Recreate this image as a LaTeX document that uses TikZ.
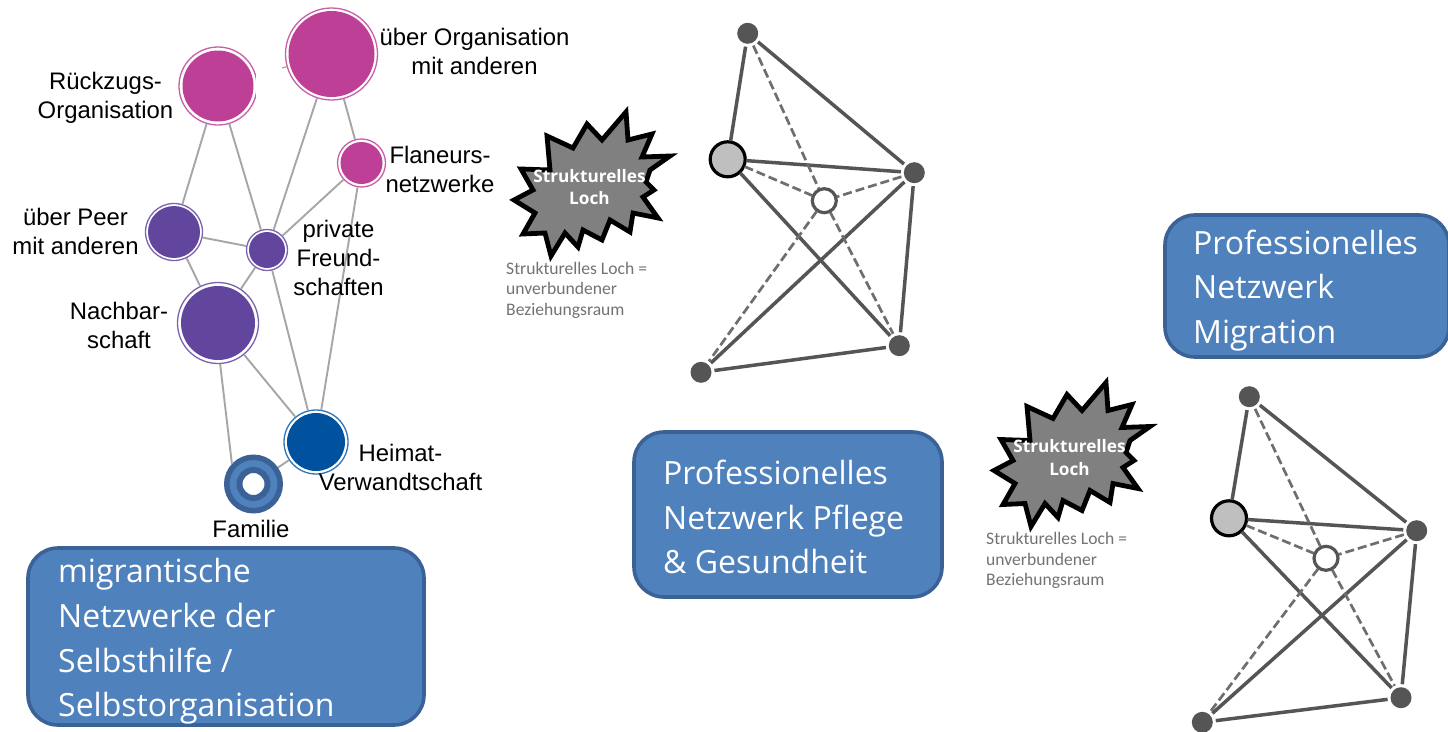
\documentclass[tikz,border=0pt]{standalone}
\usepackage{fontspec}
\setmainfont{Liberation Sans}
\newfontfamily\boxfont{Open Sans}
\newfontfamily\starfont{Open Sans}
\newfontfamily\capfont{Carlito}
\usetikzlibrary{calc}
\definecolor{mag}{HTML}{BE3F96}
\definecolor{magring}{HTML}{C85FA8}
\definecolor{pur}{HTML}{62469E}
\definecolor{purring}{HTML}{7A62B0}
\definecolor{hblue}{HTML}{00519E}
\definecolor{hring}{HTML}{2E75B6}
\definecolor{boxfill}{HTML}{4F81BD}
\definecolor{boxedge}{HTML}{3A6296}
\definecolor{edgegray}{HTML}{A6A6A6}
\definecolor{netdark}{HTML}{555555}
\tikzset{
  x=1pt,y=-1pt,
  link/.style={draw=edgegray,line width=1.9pt},
  ringnode/.style={circle,fill=white,line width=1.3pt,inner sep=0pt,minimum size=#1},
  lab/.style={align=center,inner sep=0pt,font=\fontsize{23.9}{29}\selectfont},
  bluebox/.style={draw=boxedge,fill=boxfill,line width=3.6pt,rounded corners=30pt,inner sep=0pt},
  boxtext/.style={align=left,anchor=west,inner sep=0pt,text=white,font=\boxfont\fontsize{32}{44.7}\selectfont},
  solidedge/.style={draw=netdark,line width=3.5pt},
  dashedge/.style={draw=netdark!85,line width=2.7pt,dash pattern=on 9pt off 4pt},
  smallnet/.style={circle,fill=netdark,inner sep=0pt,minimum size=21pt,outer sep=3pt},
  bignet/.style={circle,fill=black!25,draw=black,line width=3.2pt,inner sep=0pt,minimum size=35pt,outer sep=1pt},
  ctrnet/.style={circle,fill=white,draw=netdark,line width=3.2pt,inner sep=0pt,minimum size=24pt,outer sep=1pt},
  startext/.style={align=center,inner sep=0pt,text=white,font=\starfont\bfseries\fontsize{17.2}{22.5}\selectfont},
  captext/.style={align=left,inner sep=0pt,anchor=north west,text=black!55,font=\capfont\fontsize{17.6}{20.5}\selectfont},
}
% network: name, then coordinates top, left, right, centre, bottom right, bottom left
\newcommand{\netdraw}[7]{%
  \node[smallnet] (#1t) at #2 {};
  \node[bignet] (#1l) at #3 {};
  \node[smallnet] (#1r) at #4 {};
  \node[ctrnet] (#1c) at #5 {};
  \node[smallnet] (#1br) at #6 {};
  \node[smallnet] (#1bl) at #7 {};
  \draw[solidedge] (#1t) -- (#1l);
  \draw[solidedge] (#1t) -- (#1r);
  \draw[solidedge] (#1l) -- (#1r);
  \draw[solidedge] (#1l) -- (#1br);
  \draw[solidedge] (#1r) -- (#1bl);
  \draw[solidedge] (#1r) -- (#1br);
  \draw[solidedge] (#1br) -- (#1bl);
  \draw[dashedge] (#1t) -- (#1c);
  \draw[dashedge] (#1l) -- (#1c);
  \draw[dashedge] (#1r) -- (#1c);
  \draw[dashedge] (#1c) -- (#1bl);
  \draw[dashedge] (#1c) -- (#1br);
}
% star with its caption; #1 name, #2 shift
\newcommand{\stardraw}[2]{%
  \begin{scope}[shift={#2}]
    \draw[draw=black,fill=black!50,line width=4.8pt,miter limit=10,line join=miter]
      (547,136) -- (573,148) -- (587,124) -- (602,140) -- (626,112) -- (628,140) -- (652,134) -- (642,157)
      -- (670,156) -- (650,170) -- (646,182) -- (654,190) -- (643,197) -- (658,218) -- (633,213) -- (630,232)
      -- (610,220) -- (602,240) -- (583,230) -- (578,247) -- (565,233) -- (551,256) -- (545,233) -- (523,234)
      -- (535,213) -- (514,200) -- (533,190) -- (521,169) -- (550,170) -- cycle;
    \node[startext] (#1s) at (589.5,187) {Strukturelles\\Loch};
    \node[captext] (#1k) at (506,262) {Strukturelles Loch =\\unverbundener\\Beziehungsraum};
  \end{scope}
}
\begin{document}
\begin{tikzpicture}
\useasboundingbox (0,0) rectangle (1448,731);
\fill[white] (0,0) rectangle (1448,731);

% left network nodes
\node[ringnode=92pt,draw=magring] (org) at (331.5,54) {};
\node[ringnode=78pt,draw=magring] (rueck) at (218,86) {};
\node[ringnode=48pt,draw=magring] (flan) at (361.5,163) {};
\node[ringnode=57pt,draw=purring] (peer) at (174,232) {};
\node[ringnode=41pt,draw=purring] (priv) at (267,250) {};
\node[ringnode=81pt,draw=purring] (nach) at (218,323) {};
\node[ringnode=64pt,draw=hring] (heim) at (316,442) {};
\node[circle,fill=boxfill,draw=boxedge,line width=5.5pt,inner sep=0pt,minimum size=53.5pt] (fam) at (253.5,484) {};
\coordinate (stub) at (282,68);

\draw[link] (rueck) -- (peer);
\draw[link] (rueck) -- (priv);
\draw[link] (org) -- (priv);
\draw[link] (org) -- (flan);
\draw[link] (flan) -- (priv);
\draw[link] (flan) -- (heim);
\draw[link] (peer) -- (priv);
\draw[link] (peer) -- (nach);
\draw[link] (priv) -- (nach);
\draw[link] (priv) -- (heim);
\draw[link] (nach) -- (heim);
\draw[link] (nach.273) -- (fam.137);
\draw[link] (heim) -- (fam);
\draw[draw=edgegray,line width=1.2pt] (stub) -- (org);

\fill[mag] (org.center) circle (43);
\fill[mag] (rueck.center) circle (35.5);
\fill[white] (255.5,47) rectangle (262,126);
\fill[mag] (flan.center) circle (21);
\fill[pur] (peer.center) circle (26);
\fill[pur] (priv.center) circle (18);
\fill[pur] (nach.center) circle (37);
\fill[hblue] (heim.center) circle (29);
\fill[white,draw=boxedge,line width=6pt] (fam.center) circle (14);

% labels
\node[lab] (lorg) at (474.5,51.5) {über Organisation\\mit anderen};
\node[lab] (lrueck) at (105.5,97.5) {Rückzugs-\\Organisation};
\node[lab] (lflan) at (440,169) {Flaneurs-\\netzwerke};
\node[lab] (lpeer) at (75.5,231) {über Peer\\mit anderen};
\node[lab] (lpriv) at (338.5,258) {private\\Freund-\\schaften};
\node[lab] (lnach) at (119,325) {Nachbar-\\schaft};
\node[lab] (lheim) at (400.5,467) {Heimat-\\Verwandtschaft};
\node[lab] (lfam) at (251,529) {Familie};

% blue boxes
\node[bluebox,minimum width=396pt,minimum height=177pt] (b1) at (226,636.5) {};
\node[boxtext] (t1) at (58,641.5) {migrantische\\Netzwerke der\\Selbsthilfe /\\Selbstorganisation};
\node[bluebox,minimum width=308pt,minimum height=165pt] (b2) at (788,514.5) {};
\node[boxtext] (t2) at (663,517) {Professionelles\\Netzwerk Pflege\\\& Gesundheit};
\node[bluebox,minimum width=284pt,minimum height=142pt] (b3) at (1307,286) {};
\node[boxtext] (t3) at (1193,290.5) {Professionelles\\Netzwerk\\Migration};

% structural holes
\stardraw{sa}{(0,0)}
\stardraw{sb}{(480,270.5)}

% grey networks
\netdraw{a}{(747.7,33.3)}{(727.7,159.3)}{(914.3,172.7)}{(824.3,200.7)}{(899.3,345.7)}{(701,372.3)}
\netdraw{b}{(1249.3,396.7)}{(1229,518.3)}{(1416.7,530.7)}{(1326,558.3)}{(1401,697.7)}{(1202.3,722.3)}
\end{tikzpicture}
\end{document}
